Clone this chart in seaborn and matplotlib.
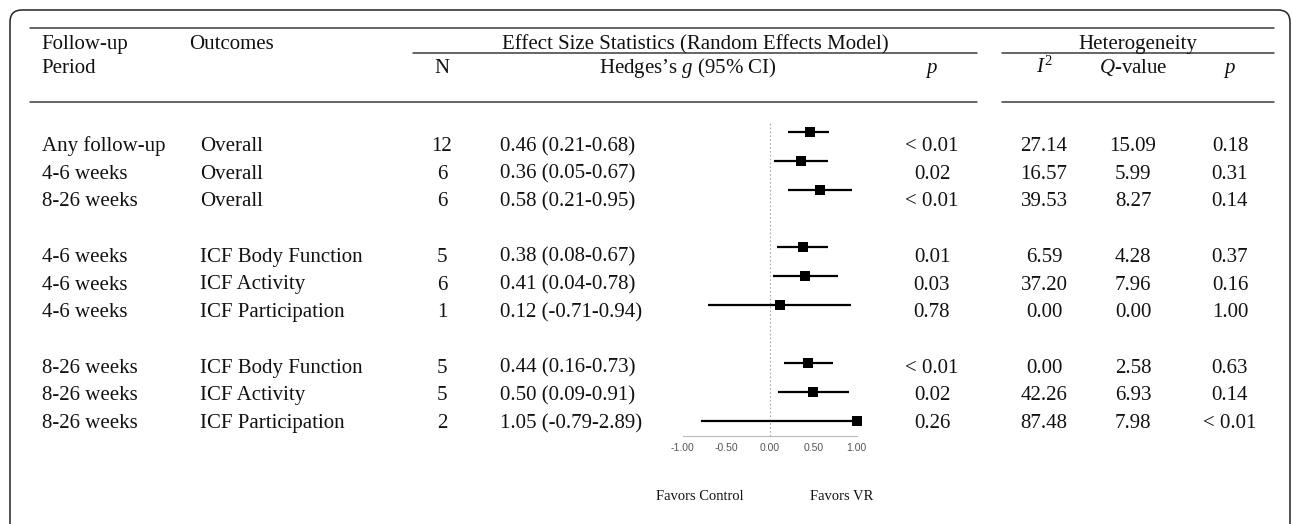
import numpy as np
import pandas as pd
import seaborn as sns
import matplotlib.pyplot as plt
from matplotlib.patches import FancyBboxPatch

periods = ["Any follow-up", "4-6 weeks", "8-26 weeks",
           "4-6 weeks", "4-6 weeks", "4-6 weeks",
           "8-26 weeks", "8-26 weeks", "8-26 weeks"]
outcomes = ["Overall", "Overall", "Overall",
            "ICF Body Function", "ICF Activity", "ICF Participation",
            "ICF Body Function", "ICF Activity", "ICF Participation"]
n_studies = [12, 6, 6, 5, 6, 1, 5, 5, 2]
hedges_g = [0.46, 0.36, 0.58, 0.38, 0.41, 0.12, 0.44, 0.50, 1.05]
ci_low = [0.21, 0.05, 0.21, 0.08, 0.04, -0.71, 0.16, 0.09, -0.79]
ci_high = [0.68, 0.67, 0.95, 0.67, 0.78, 0.94, 0.73, 0.91, 2.89]
p_effect = ["< 0.01", "0.02", "< 0.01", "0.01", "0.03", "0.78", "< 0.01", "0.02", "0.26"]
i_squared = [27.14, 16.57, 39.53, 6.59, 37.20, 0.00, 0.00, 42.26, 87.48]
q_value = [15.09, 5.99, 8.27, 4.28, 7.96, 0.00, 2.58, 6.93, 7.98]
p_het = ["0.18", "0.31", "0.14", "0.37", "0.16", "1.00", "0.63", "0.14", "< 0.01"]
row_pos = [0, 1, 2, 4, 5, 6, 8, 9, 10]
x_ticks = [-1.0, -0.5, 0.0, 0.5, 1.0]

sns.set_style("white")
plt.rcParams["font.family"] = ["Liberation Serif", "DejaVu Serif"]
plt.rcParams["mathtext.fontset"] = "custom"
plt.rcParams["mathtext.rm"] = "Liberation Serif"
plt.rcParams["mathtext.it"] = "Liberation Serif:italic"

df = pd.DataFrame({
    "row": row_pos,
    "g": np.clip(hedges_g, -1, 1),
    "lo": np.clip(ci_low, -1, 1),
    "hi": np.clip(ci_high, -1, 1),
})

W, H = 1292, 524
fig = plt.figure(figsize=(W / 100, H / 100), dpi=100)

# table layer in pixel coordinates
tab = fig.add_axes([0, 0, 1, 1])
tab.set_xlim(0, W)
tab.set_ylim(H, 0)
tab.axis("off")

frame = FancyBboxPatch((10, 10), 1280, 600, boxstyle="round,pad=0,rounding_size=12",
                       fill=False, lw=1.1, ec="#222222")
tab.add_patch(frame)

rule = dict(color="#3a3a3a", lw=1.1)
tab.plot([30, 1274], [28, 28], **rule)
tab.plot([413, 977], [53, 53], **rule)
tab.plot([1002, 1274], [53, 53], **rule)
tab.plot([30, 977], [102, 102], **rule)
tab.plot([1002, 1274], [102, 102], **rule)

fs = 15
tc = "#111111"
txt = dict(fontsize=fs, va="baseline", color=tc)
h1, h2 = 49, 73
tab.text(41, h1, "Follow-up", **txt)
tab.text(41, h2, "Period", **txt)
tab.text(189, h1, "Outcomes", **txt)
tab.text(695, h1, "Effect Size Statistics (Random Effects Model)", ha="center", **txt)
tab.text(1138, h1, "Heterogeneity", ha="center", **txt)
tab.text(442, h2, "N", ha="center", **txt)
tab.text(688, h2, "Hedges\u2019s $g$ (95% CI)", ha="center", **txt)
tab.text(932, h2, "$p$", ha="center", **txt)
tab.text(1044, h2, "$I^2$", ha="center", **txt)
tab.text(1133, h2, "$Q$-value", ha="center", **txt)
tab.text(1230, h2, "$p$", ha="center", **txt)

for i, r in enumerate(row_pos):
    y = 151 + r * 27.7
    tab.text(42, y, periods[i], **txt)
    tab.text(200, y, outcomes[i], **txt)
    tab.text(442, y, str(n_studies[i]), ha="center", **txt)
    tab.text(500, y, f"{hedges_g[i]:.2f} ({ci_low[i]:.2f}-{ci_high[i]:.2f})", **txt)
    tab.text(932, y, p_effect[i], ha="center", **txt)
    tab.text(1044, y, f"{i_squared[i]:.2f}", ha="center", **txt)
    tab.text(1133, y, f"{q_value[i]:.2f}", ha="center", **txt)
    tab.text(1230, y, p_het[i], ha="center", **txt)

tab.text(700, 500, "Favors Control", fontsize=10.5, va="baseline", ha="center", color=tc)
tab.text(842, 500, "Favors VR", fontsize=10.5, va="baseline", ha="center", color=tc)

# forest plot
x0, x1 = 682.7, 856.7
y_top, y_bot = 123, 436
fax = fig.add_axes([x0 / W, 1 - y_bot / H, (x1 - x0) / W, (y_bot - y_top) / H])
fax.patch.set_alpha(0)
fax.axvline(0, color="#aaaaaa", lw=0.8, ls=(0, (1.5, 2)), zorder=1)
fax.hlines(df["row"], df["lo"], df["hi"], color="black", lw=1.6, zorder=2)
sns.scatterplot(data=df, x="g", y="row", marker="s", s=62, color="black",
                edgecolor="black", linewidth=0, ax=fax, legend=False,
                clip_on=False, zorder=3)
fax.set_xlim(-1, 1)
fax.set_ylim(10.52, -0.30)
fax.set_yticks([])
fax.set_xlabel("")
fax.set_ylabel("")
fax.set_xticks(x_ticks)
fax.set_xticklabels([f"{t:.2f}" for t in x_ticks], family="Liberation Sans",
                    fontsize=7.5, color="#555555")
fax.tick_params(axis="x", direction="in", length=3, width=0.8, color="#bbbbbb", pad=5)
for side in ["top", "left", "right"]:
    fax.spines[side].set_visible(False)
fax.spines["bottom"].set_color("#bbbbbb")
fax.spines["bottom"].set_linewidth(0.8)

plt.savefig("out.png", dpi=100)
